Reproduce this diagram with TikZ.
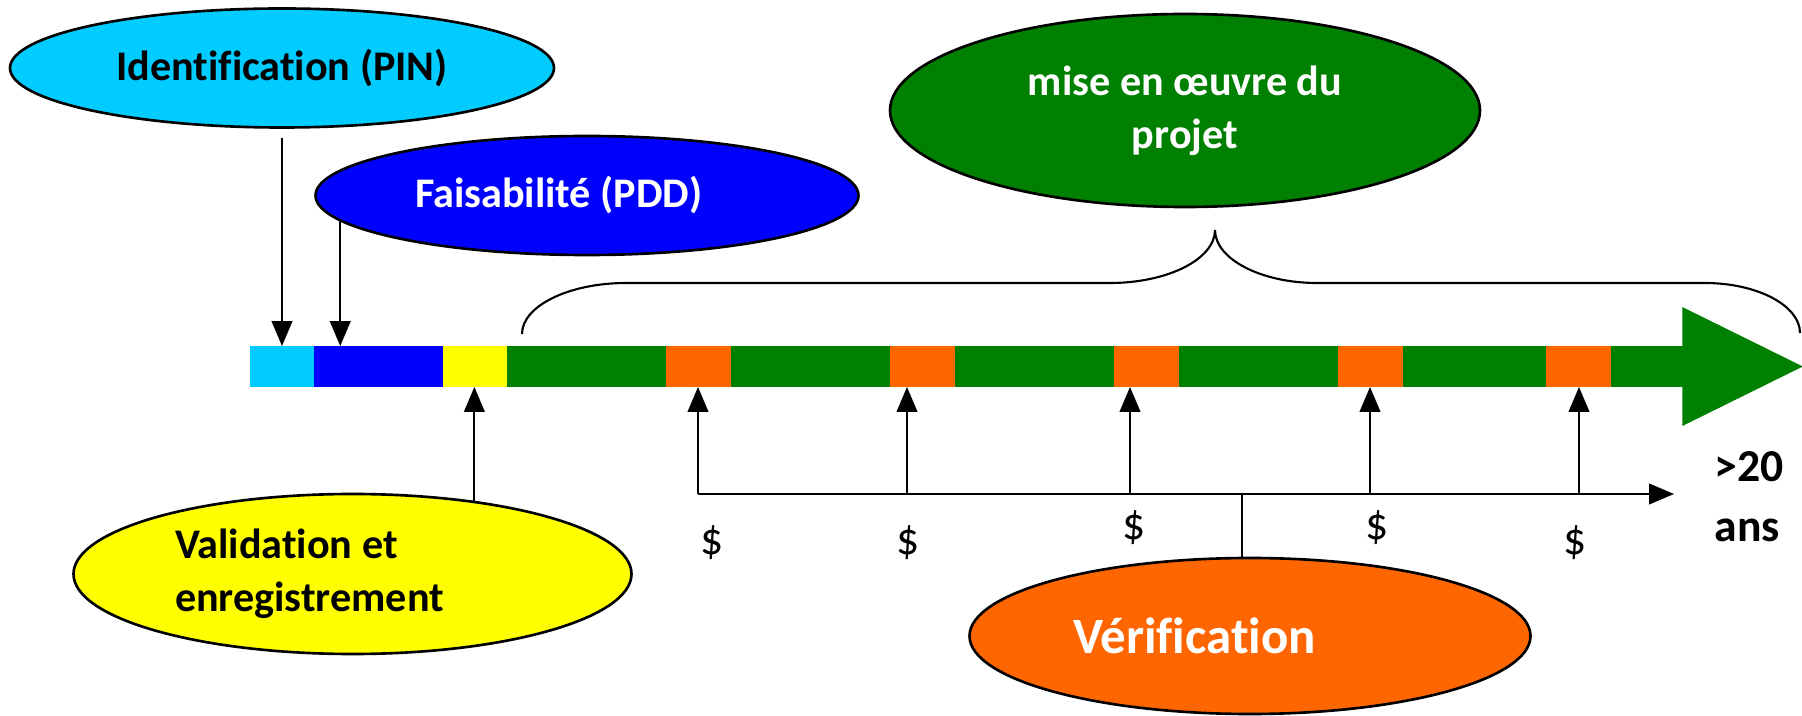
\documentclass[tikz,border=0pt]{standalone}
\usepackage{fontspec}
\setmainfont{Carlito}[Ligatures=NoCommon]
\usepackage{tikz}
\usetikzlibrary{shapes,arrows}

\begin{document}
\begin{tikzpicture}[x=0.1mm,y=0.1mm,
  bulle/.style={ellipse,draw=black,line width=0.75pt,inner sep=0pt,font=\fontsize{12}{15}\selectfont\bfseries},
  seg/.style={rectangle,draw=none,inner sep=0pt,outer sep=0pt,minimum height=4.1mm},
  fl/.style={->,>=triangle 45,line width=0.6pt},
  trait/.style={line width=0.6pt},
  dollar/.style={inner sep=0pt,font=\fontsize{13}{15}\selectfont}]
\definecolor{idColor}{RGB}{0,204,255}
\definecolor{faColor}{RGB}{0,0,255}
\definecolor{vaColor}{RGB}{255,255,0}
\definecolor{miseColor}{RGB}{0,128,0}
\definecolor{veColor}{RGB}{255,102,0}
\useasboundingbox (0,0) rectangle (1802,715);
% barre du temps
\foreach \xa/\xb/\col [count=\i] in {250/314/idColor,314/443/faColor,443/507/vaColor,507/666/miseColor,666/731/veColor,731/890/miseColor,890/955/veColor,955/1114/miseColor,1114/1179/veColor,1179/1338/miseColor,1338/1403/veColor,1403/1546/miseColor,1546/1611/veColor,1611/1683/miseColor}
  \node[seg,fill=\col,minimum width={(\xb-\xa+0.6)*0.1mm}] (s\i) at ({(\xa+\xb)/2},348.5) {};
\fill[miseColor] (s14.east) ++(-1,59.5) -- ++(120.5,-59.5) -- ++(-120.5,-59.5) -- cycle;
% accolade
\draw[trait] (522,381) .. controls (522,409) and (569,432) .. (626,432) -- (1110,432)
  .. controls (1168,432) and (1215,456) .. (1215,485)
  .. controls (1215,456) and (1261,432) .. (1317,432) -- (1705,432)
  .. controls (1757,432) and (1800,409.5) .. (1800,382);
% bulles
\node[bulle,fill=idColor,minimum width=54.4mm,minimum height=11.9mm] (id) at (282,647) {Identification (PIN)};
\node[bulle,fill=faColor,text=white,minimum width=54.3mm,minimum height=11.9mm,text width=34.4mm,align=flush left] (fa) at (587,519.5) {Faisabilité (PDD)};
\node[bulle,fill=miseColor,text=white,minimum width=59mm,minimum height=19.3mm,align=center] (mo) at (1185,604.5) {mise en œuvre du\\projet};
\node[bulle,fill=vaColor,minimum width=55.8mm,minimum height=16mm,text width=35.5mm,align=flush left] (va) at (352.5,141) {Validation et\\enregistrement};
\node[bulle,fill=veColor,text=white,minimum width=56.1mm,minimum height=15.6mm,text width=35.4mm,align=flush left,font=\fontsize{14.5}{17}\selectfont\bfseries] (ve) at (1250,79) {Vérification};
% fleches
\draw[fl,shorten <=0.9mm] (id.south) -- (id.south |- s1.north);
\draw[fl] (fa.186) -- (fa.186 |- s2.north);
\draw[fl] (va.31) -- (va.31 |- s3.south);
\coordinate (t0) at (698,221);
\coordinate (t1) at (1674,221);
\draw[fl] (t0) -- (t1);
\foreach \x/\s in {698/5,907/7,1130/9,1370/11,1579/13}{
  \coordinate (v\s) at (\x,221);
  \draw[fl] (v\s) -- (v\s |- s\s.south);
}
\coordinate (vx) at (1242,221);
\draw[trait] (vx) -- (vx |- ve.north);
\foreach \x/\y [count=\i] in {712/172,908/172,1134/187,1377/187,1575/172}
  \node[dollar] (d\i) at (\x,\y) {\$};
\node[anchor=west,align=left,inner sep=0pt,font=\fontsize{13}{17}\selectfont\bfseries] (ans) at (1714,218) {>20\\ans};
\end{tikzpicture}
\end{document}
